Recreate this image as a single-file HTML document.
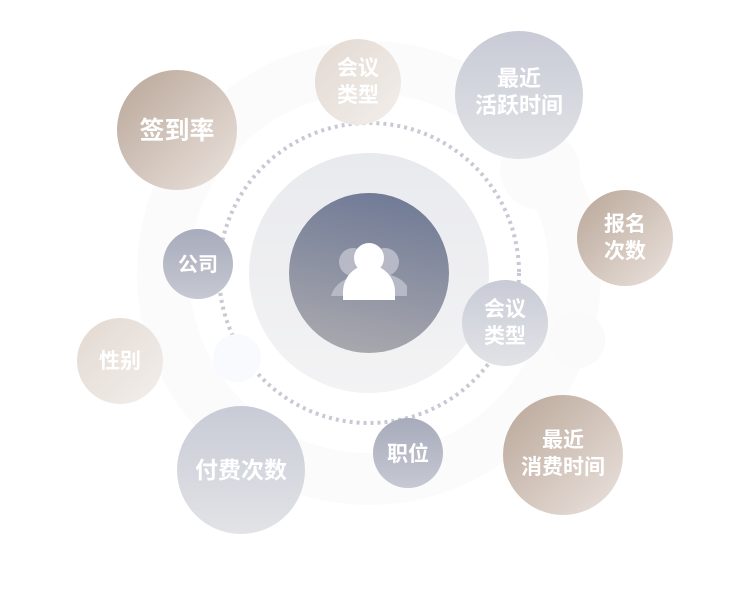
<!DOCTYPE html>
<html><head><meta charset="utf-8"><style>
html,body{margin:0;padding:0;background:#fff;width:750px;height:606px;overflow:hidden}
text{font-family:"Liberation Sans","Noto Sans CJK SC",sans-serif;font-weight:bold;fill:#fff;text-anchor:middle}
</style></head><body>
<svg width="750" height="606" viewBox="0 0 750 606" xmlns="http://www.w3.org/2000/svg">
<defs>
<linearGradient id="brown" x1="0" y1="0" x2="1" y2="1"><stop offset="0" stop-color="#b9a698"/><stop offset="1" stop-color="#ebe3de"/></linearGradient>
<linearGradient id="beige" x1="0" y1="0" x2="1" y2="1"><stop offset="0" stop-color="#e2d8d1"/><stop offset="1" stop-color="#f3efec"/></linearGradient>
<linearGradient id="blue" x1="0" y1="0" x2="0" y2="1"><stop offset="0" stop-color="#a7abbb"/><stop offset="1" stop-color="#c6c8d2"/></linearGradient>
<linearGradient id="lblue" x1="0" y1="0" x2="0" y2="1"><stop offset="0" stop-color="#c8cbd6"/><stop offset="1" stop-color="#e2e3e7"/></linearGradient>
<linearGradient id="dark" x1="0.6" y1="0" x2="0.4" y2="1"><stop offset="0" stop-color="#717b96"/><stop offset="1" stop-color="#a8a8ae"/></linearGradient>
<linearGradient id="ring" x1="0" y1="0" x2="0" y2="1"><stop offset="0" stop-color="#e9eaee"/><stop offset="1" stop-color="#f3f3f4"/></linearGradient>
</defs>
<circle cx="369" cy="273" r="232" fill="#fbfbfb"/>
<circle cx="369" cy="273" r="180" fill="#fff"/>
<circle cx="369" cy="273" r="150" fill="none" stroke="#c8c9d3" stroke-width="4" stroke-dasharray="3 4"/>
<circle cx="369" cy="273" r="120" fill="url(#ring)"/>
<circle cx="369" cy="273" r="80" fill="url(#dark)"/>
<g fill="#b7b9c6">
<circle cx="385" cy="262" r="14"/><path d="M359 296 a26 24 0 0 1 48 -10 v10z"/>
<circle cx="353" cy="262" r="14"/><path d="M331 296 a26 26 0 0 1 50 0z"/>
</g>
<circle cx="369" cy="258" r="15" fill="#fff"/>
<path d="M343 300 v-8 a26 27 0 0 1 52 0 v8 z" fill="#fff"/>
<circle cx="237" cy="358" r="24" fill="#f9fafd"/>
<circle cx="577" cy="340" r="28" fill="#fafafa"/>
<circle cx="540" cy="170" r="40" fill="#fbfbfb"/>
<circle cx="177" cy="130" r="60" fill="url(#brown)"/>
<text x="177" y="139" font-size="25">签到率</text>
<circle cx="358" cy="82" r="43" fill="url(#beige)"/>
<text x="358" y="75" font-size="21">会议</text><text x="358" y="102" font-size="21">类型</text>
<circle cx="519" cy="95" r="64" fill="url(#lblue)"/>
<text x="519" y="86" font-size="22">最近</text><text x="519" y="113" font-size="22">活跃时间</text>
<circle cx="625" cy="238" r="48" fill="url(#brown)"/>
<text x="625" y="231" font-size="21">报名</text><text x="625" y="258" font-size="21">次数</text>
<circle cx="198" cy="264" r="35" fill="url(#blue)"/>
<text x="198" y="271" font-size="20">公司</text>
<circle cx="505" cy="323" r="43" fill="url(#lblue)"/>
<text x="505" y="316" font-size="21">会议</text><text x="505" y="343" font-size="21">类型</text>
<circle cx="120" cy="361" r="43" fill="url(#beige)"/>
<text x="120" y="368" font-size="21">性别</text>
<circle cx="241" cy="470" r="64" fill="url(#lblue)"/>
<text x="241" y="478" font-size="23">付费次数</text>
<circle cx="408" cy="453" r="35" fill="url(#blue)"/>
<text x="408" y="461" font-size="21">职位</text>
<circle cx="563" cy="455" r="60" fill="url(#brown)"/>
<text x="563" y="447" font-size="21">最近</text><text x="563" y="474" font-size="21">消费时间</text>
</svg>
</body></html>
